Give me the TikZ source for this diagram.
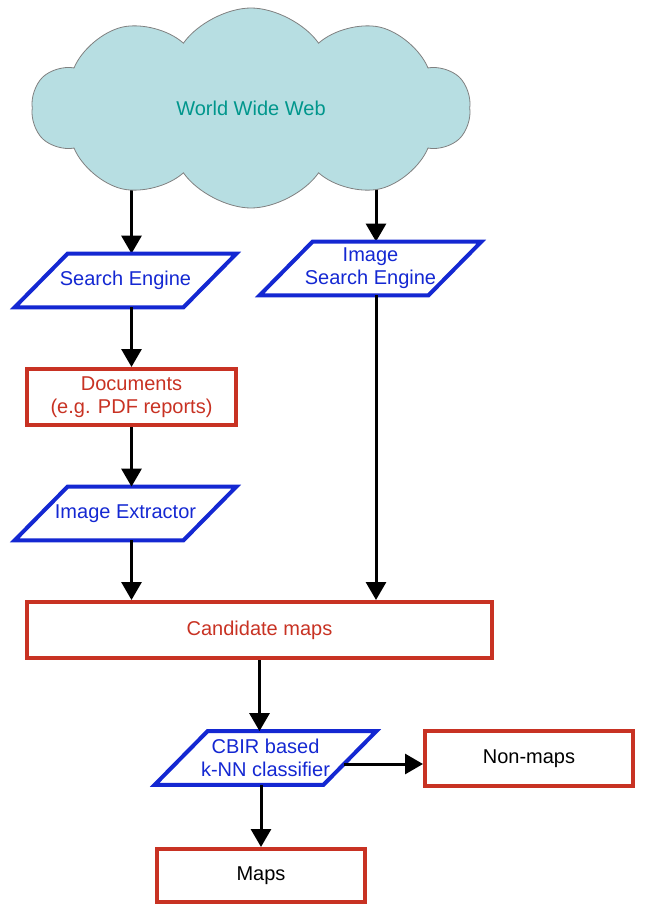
\documentclass[tikz,border=0pt]{standalone}
\usepackage{fontspec}
\setmainfont{Liberation Sans}
\usepackage{xcolor}
\usetikzlibrary{shapes.symbols,arrows.meta,backgrounds}
\definecolor{cloudfill}{RGB}{183,222,226}
\definecolor{webteal}{RGB}{0,150,140}
\definecolor{flowblue}{RGB}{20,40,210}
\definecolor{flowred}{RGB}{200,50,35}

\begin{document}
\begin{tikzpicture}[x=0.5pt,y=-0.5pt,
  font=\fontsize{10}{11.5}\selectfont,
  proc/.style={rectangle, text=flowblue, align=center, inner sep=0pt,
    minimum width=84pt, minimum height=26.5pt,
    append after command={\pgfextra{\draw[flowblue, line width=2pt]
      ([xshift=-13.25pt]\tikzlastnode.south west) -- ([xshift=-13.25pt]\tikzlastnode.south east)
      -- ([xshift=13.25pt]\tikzlastnode.north east) -- ([xshift=13.25pt]\tikzlastnode.north west)
      -- cycle;}}},
  data/.style={rectangle, draw=flowred, line width=2pt, align=center, inner sep=0pt},
  arr/.style={-{Triangle[length=9pt,width=10pt]}, line width=1.5pt}]
\useasboundingbox (0,0) rectangle (651,921);

\node[cloud, cloud puffs=10, cloud puff arc=110, aspect=2.2, draw=gray, fill=cloudfill,
  text=webteal, minimum width=219pt, minimum height=100pt] (web) at (251,108) {World Wide Web};

\node[proc] (se) at (125.5,280.5) {Search Engine};
\node[proc] (ise) at (370.5,268.5) {Image\\Search Engine};
\node[data, text=flowred, minimum width=104.5pt, minimum height=28pt] (docs) at (131.5,397) {Documents\\(e.g. PDF reports)};
\node[proc] (ext) at (125.5,513.5) {Image Extractor};
\node[data, text=flowred, minimum width=232.5pt, minimum height=28pt] (cand) at (259.5,630) {Candidate maps};
\node[proc] (cbir) at (265.5,758) {CBIR based\\k-NN classifier};
\node[data, minimum width=104pt, minimum height=27.5pt] (nonmaps) at (529,758.5) {Non-maps};
\node[data, minimum width=104pt, minimum height=26.5pt] (maps) at (261,875.5) {Maps};

\coordinate (rcol) at (376,0);
\begin{scope}[on background layer]
\draw[arr] (web.center -| docs) -- (se.north -| docs);
\draw[arr] (web.center -| rcol) -- (ise.north -| rcol);
\end{scope}
\draw[arr] (se.south -| docs) -- (docs.north);
\draw[arr] (docs.south) -- (ext.north -| docs);
\draw[arr] (ext.south -| docs) -- (cand.north -| docs);
\draw[arr] (ise.south -| rcol) -- (cand.north -| rcol);
\draw[arr] (cand.south) -- (cbir.north -| cand);
\draw[arr] ([xshift=-3pt,yshift=-3pt]cbir.east) -- ([yshift=-3pt]cbir.east -| nonmaps.west);
\draw[arr] (cbir.south -| maps) -- (maps.north);
\end{tikzpicture}
\end{document}
